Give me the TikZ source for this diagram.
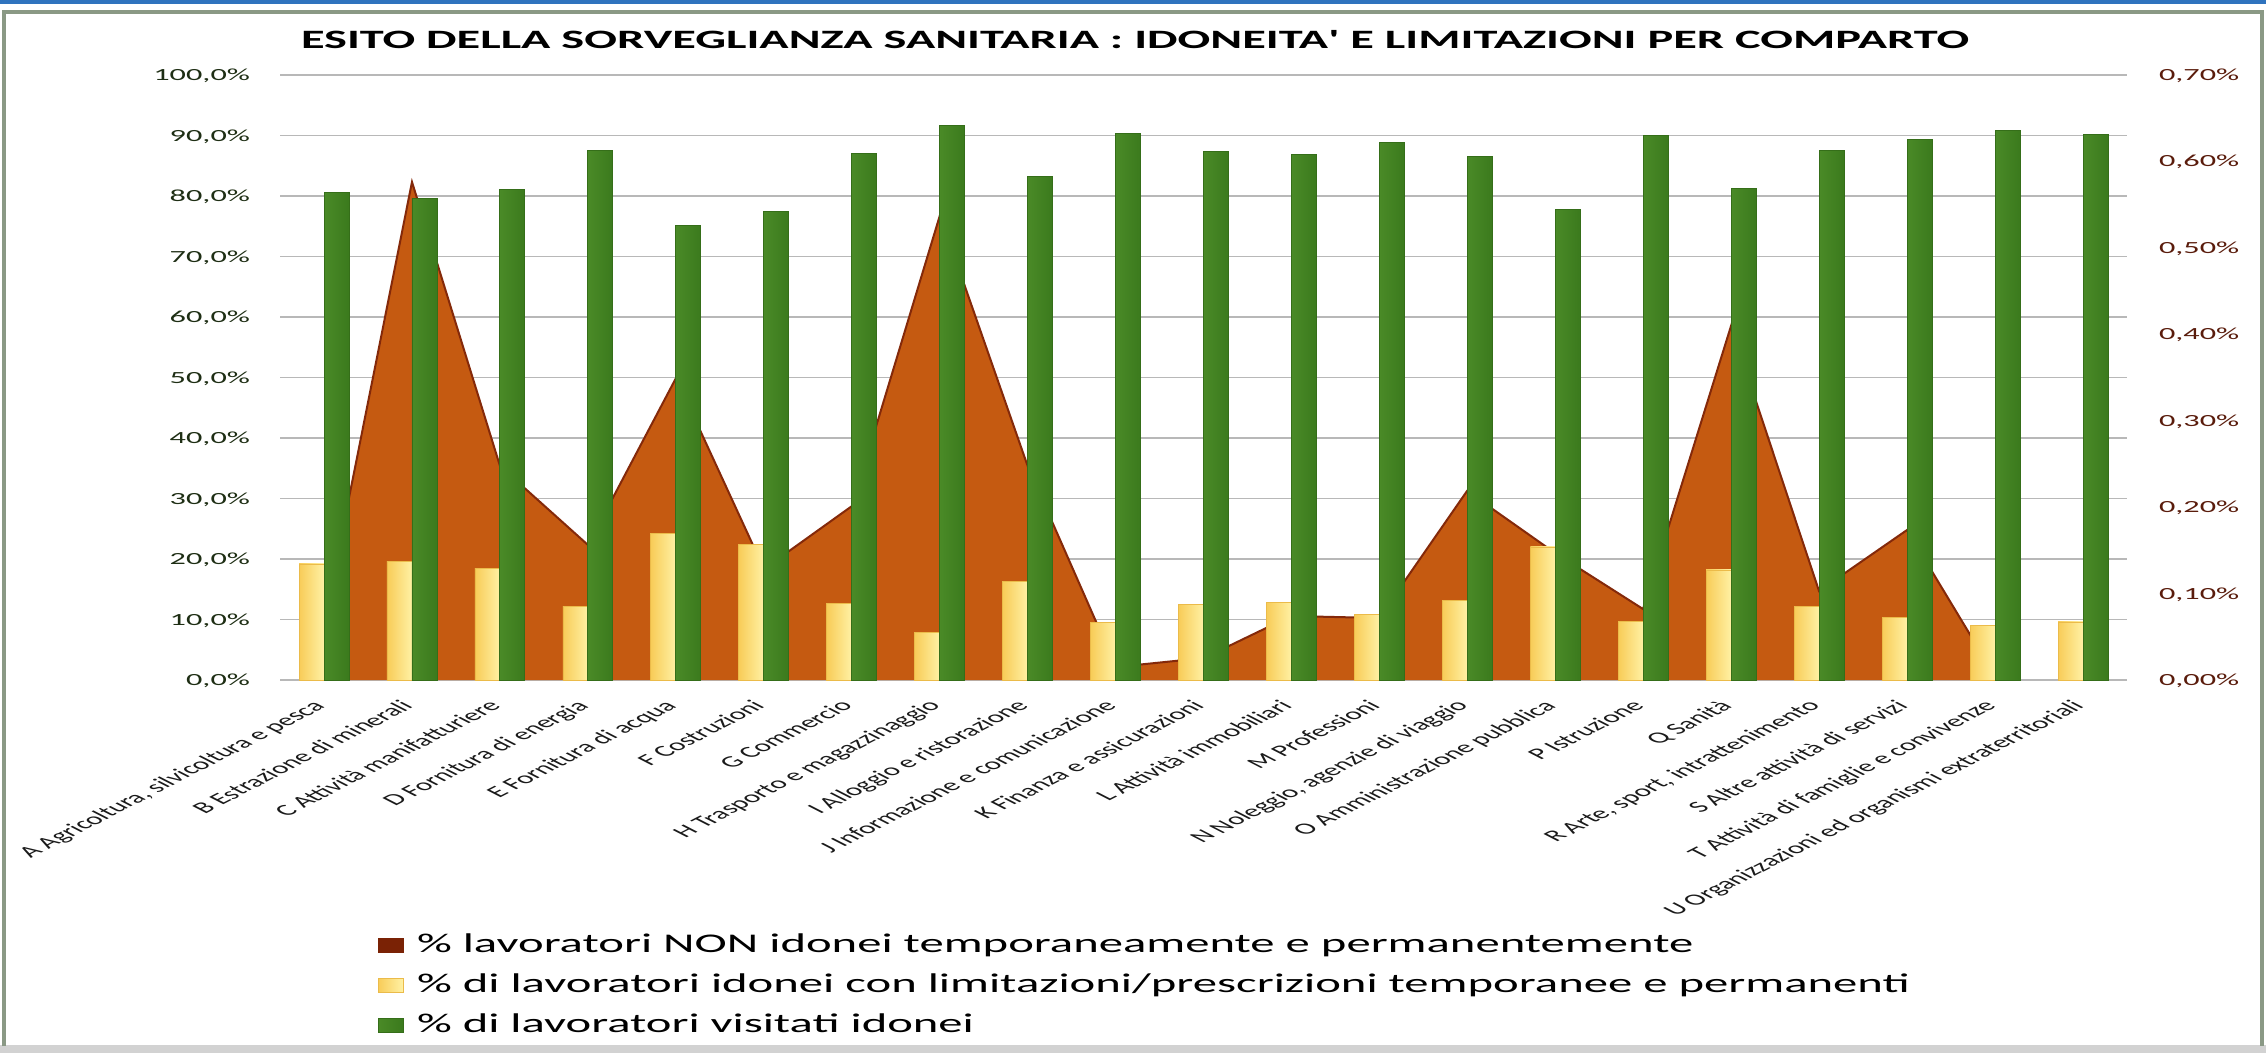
\documentclass[tikz,border=0pt]{standalone}
\usepackage{fontspec}
\setmainfont{Carlito}
\usepackage{graphicx}
\definecolor{areaC}{HTML}{C55A11}
\definecolor{areaE}{HTML}{84290A}
\definecolor{grnL}{HTML}{4A8A27}
\definecolor{grnM}{HTML}{74B04B}
\definecolor{grnR}{HTML}{3B7A1D}
\definecolor{grnE}{HTML}{356E19}
\definecolor{yelL}{HTML}{F8CC58}
\definecolor{yelM}{HTML}{FFE27C}
\definecolor{yelR}{HTML}{FFF1A4}
\definecolor{yelE}{HTML}{EBBB4A}
\definecolor{gridC}{HTML}{B8B8B8}
\definecolor{leftC}{HTML}{1E2E14}
\definecolor{rightC}{HTML}{5A1C0C}
\definecolor{labC}{HTML}{1A1A1A}
\definecolor{frameC}{HTML}{8A9985}
\definecolor{frameB}{HTML}{D2D2D2}
\definecolor{blueC}{HTML}{2F73BE}
\definecolor{legRL}{HTML}{7A2205}
\definecolor{legRM}{HTML}{A8400F}
\begin{document}
\begin{tikzpicture}[x=1pt,y=-1pt,
  every node/.style={inner sep=0pt, outer sep=0pt},
  gridline/.style={draw=gridC, line width=1.6pt},
  yelbar/.style={left color=yelL, middle color=yelM, right color=yelR, draw=yelE, line width=0.7pt},
  grnbar/.style={left color=grnL, middle color=grnM, right color=grnR, draw=grnE, line width=0.9pt},
  redbox/.style={left color=legRL, middle color=legRM, right color=legRL, draw=legRL, line width=0.7pt},
  leftlab/.style={anchor=base east, text=leftC, font=\fontsize{17}{19}\selectfont},
  rightlab/.style={anchor=base west, text=rightC, font=\fontsize{17}{19}\selectfont},
  catlab/.style={anchor=base east, text=labC, font=\fontsize{16}{18}\selectfont, transform shape},
  legtext/.style={anchor=base west, text=black, font=\fontsize{27}{30}\selectfont},
  titletext/.style={anchor=base, text=black, font=\fontsize{26.5}{30}\selectfont\bfseries}
]
\useasboundingbox (0,0) rectangle (2266,1053);
\fill[white] (0,0) rectangle (2266,1053);
% outer frame
\fill[blueC] (0,0) rectangle (2266,3.5);
\draw[frameB, line width=8pt] (0,1049) -- (2266,1049);
\draw[frameC, line width=4.5pt] (4,1046) -- (4,12) -- (2262,12) -- (2262,1046);

% title
\node[titletext] (title) at (1135,48) {\resizebox{1668pt}{\height}{ESITO DELLA SORVEGLIANZA SANITARIA : IDONEITA\textquotesingle{} E LIMITAZIONI PER COMPARTO}};

% gridlines
\foreach \k in {0,...,10} {
  \draw[gridline] (280,{680-60.5*\k}) -- (2127,{680-60.5*\k});
}

% left axis labels
\foreach \k/\t in {0/{0,0},1/{10,0},2/{20,0},3/{30,0},4/{40,0},5/{50,0},6/{60,0},7/{70,0},8/{80,0},9/{90,0},10/{100,0}} {
  \node[leftlab] (yl\k) at (250,{680-60.5*\k+5.5}) {\scalebox{1.9}[1]{\t\%}};
}
% right axis labels
\foreach \k in {0,...,7} {
  \node[rightlab] (yr\k) at (2159,{680-86.43*\k+5.5}) {\scalebox{1.9}[1]{0,\k0\%}};
}

% area series (secondary axis)
\fill[areaC] (324,680) -- (324,623) -- (412,182) -- (500,466) -- (588,545) -- (676,378)
  -- (764,569) -- (852,506) -- (940,215) -- (1028,467) -- (1116,667) -- (1204,658)
  -- (1291,616) -- (1379,618) -- (1467,491) -- (1555,553) -- (1643,609) -- (1731,326)
  -- (1819,591) -- (1907,530) -- (1995,676) -- (1995,680) -- cycle;
\draw[areaE, line width=2pt, line join=miter] (324,623) -- (412,182) -- (500,466) -- (588,545) -- (676,378)
  -- (764,569) -- (852,506) -- (940,215) -- (1028,467) -- (1116,667) -- (1204,658)
  -- (1291,616) -- (1379,618) -- (1467,491) -- (1555,553) -- (1643,609) -- (1731,326)
  -- (1819,591) -- (1907,530) -- (1995,676);

% bars
\foreach \i/\yv/\gv in {0/19.2/80.6,1/19.6/79.6,2/18.5/81.1,3/12.2/87.6,4/24.2/75.2,5/22.4/77.4,6/12.7/87.1,7/7.8/91.6,8/16.3/83.3,9/9.5/90.4,10/12.5/87.3,11/12.8/86.9,12/10.9/88.8,13/13.2/86.6,14/22.0/77.7,15/9.7/90.0,16/18.2/81.2,17/12.2/87.6,18/10.3/89.3,19/9.0/90.8,20/9.6/90.2} {
  \pgfmathsetmacro\cx{324+87.95*\i}
  \pgfmathsetmacro\yt{680-6.05*\yv}
  \pgfmathsetmacro\gt{680-6.05*\gv}
  \shadedraw[yelbar] ({\cx-25},\yt) rectangle (\cx,680);
  \shadedraw[grnbar] (\cx,\gt) rectangle ({\cx+25},680);
}

% category labels
\foreach \i/\lab in {0/{A Agricoltura, silvicoltura e pesca},1/{B Estrazione di minerali},2/{C Attività manifatturiere},3/{D Fornitura di energia},4/{E Fornitura di acqua},5/{F Costruzioni},6/{G Commercio},7/{H Trasporto e magazzinaggio},8/{I Alloggio e ristorazione},9/{J Informazione e comunicazione},10/{K Finanza e assicurazioni},11/{L Attività immobiliari},12/{M Professioni},13/{N Noleggio, agenzie di viaggio},14/{O Amministrazione pubblica},15/{P Istruzione},16/{Q Sanità},17/{R Arte, sport, intrattenimento},18/{S Altre attività di servizi},19/{T Attività di famiglie e convivenze},20/{U Organizzazioni ed organismi extraterritoriali}} {
  \pgfmathsetmacro\cx{324+87.95*\i}
  \begin{scope}[shift={({\cx+2},707)}, xscale=1.95, rotate=45]
    \node[catlab] (lab\i) at (0,0) {\lab};
  \end{scope}
}

% legend
\shadedraw[redbox] (378,938) rectangle (403,952);
\node[legtext] (leg1) at (417,952) {\resizebox{1276pt}{\height}{\% lavoratori NON idonei temporaneamente e permanentemente}};
\shadedraw[yelbar] (378,978) rectangle (403,992);
\node[legtext] (leg2) at (417,992) {\resizebox{1493pt}{\height}{\% di lavoratori idonei con limitazioni/prescrizioni temporanee e permanenti}};
\shadedraw[grnbar] (378,1018) rectangle (403,1032);
\node[legtext] (leg3) at (417,1032) {\resizebox{557pt}{\height}{\% di lavoratori visitati idonei}};
\end{tikzpicture}
\end{document}
